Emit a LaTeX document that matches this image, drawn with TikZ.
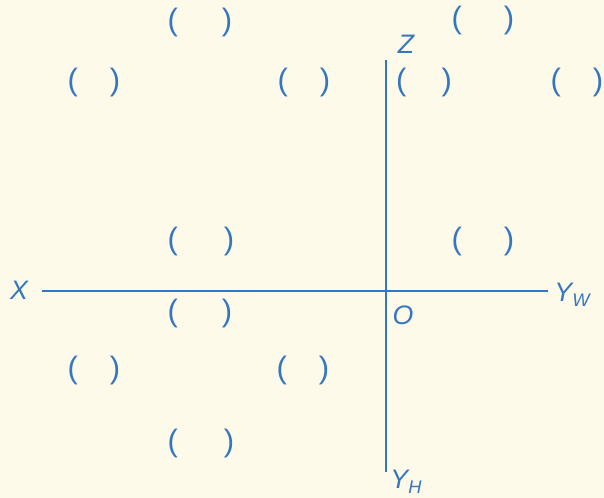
\documentclass[tikz,border=0pt]{standalone}
\usepackage{fontspec}
\setmainfont{Liberation Sans}
\usepackage{xcolor}
\usetikzlibrary{positioning,calc}

\definecolor{inkblue}{RGB}{52,118,192}
\definecolor{paper}{RGB}{253,250,234}

\begin{document}
\begin{tikzpicture}[
    x=0.025cm, y=-0.025cm,
    axis/.style={draw=inkblue, line width=0.8pt},
    lbl/.style={text=inkblue, font=\fontsize{19}{19}\selectfont\itshape, inner sep=0pt},
    blank/.style={text=inkblue, font=\fontsize{22}{22}\selectfont, inner sep=0pt}
]
    \fill[paper] (0,0) rectangle (604,498);
    \useasboundingbox (0,0) rectangle (604,498);

    % axes
    \coordinate (xl) at (42,291);
    \coordinate (yw) at (548,291);
    \coordinate (zt) at (386,60);
    \coordinate (yh) at (386,472);
    \draw [axis] (xl) -- (yw);
    \draw [axis] (zt) -- (yh);

    \node [lbl] (lx) at (19,290) {X};
    \node [lbl] (lyw) at (572,295) {Y\raisebox{-0.35ex}{\fontsize{13}{13}\selectfont W}};
    \node [lbl] (lz) at (406,44) {Z};
    \node [lbl] (lo) at (403,315) {O};
    \node [lbl] (lyh) at (406,482) {Y\raisebox{-0.35ex}{\fontsize{13}{13}\selectfont H}};

    % blanks to fill in
    \node [blank] (b1) at (200,22) {(\hspace{1.1cm})};
    \node [blank] (b2) at (483,20) {(\hspace{1.05cm})};
    \node [blank] (b3) at (94,82) {(\hspace{0.8cm})};
    \node [blank] (b4) at (304,82) {(\hspace{0.8cm})};
    \node [blank] (b5) at (424,82) {(\hspace{0.88cm})};
    \node [blank] (b6) at (577,82) {(\hspace{0.8cm})};
    \node [blank] (b7) at (201,241) {(\hspace{1.15cm})};
    \node [blank] (b8) at (483,241) {(\hspace{1.05cm})};
    \node [blank] (b9) at (200,313) {(\hspace{1.1cm})};
    \node [blank] (b10) at (94,370) {(\hspace{0.8cm})};
    \node [blank] (b11) at (303,370) {(\hspace{0.8cm})};
    \node [blank] (b12) at (201,443) {(\hspace{1.15cm})};
\end{tikzpicture}
\end{document}
